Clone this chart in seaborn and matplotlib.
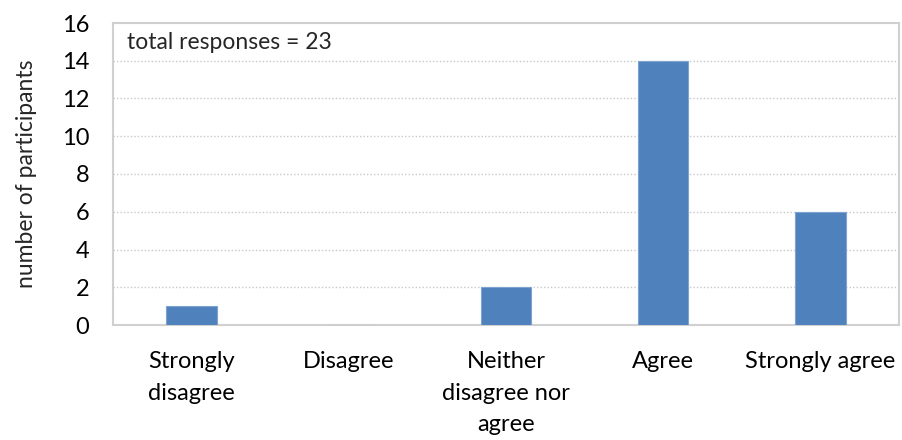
import matplotlib
matplotlib.use("Agg")
import matplotlib.pyplot as plt
import seaborn as sns
import pandas as pd

categories = ["Strongly\ndisagree", "Disagree", "Neither\ndisagree nor\nagree", "Agree", "Strongly agree"]
counts = [1, 0, 2, 14, 6]
y_ticks = [0, 2, 4, 6, 8, 10, 12, 14, 16]

sns.set_theme(style="white")
plt.rcParams["font.family"] = ["Lato", "DejaVu Sans"]

df = pd.DataFrame({"response": categories, "count": counts})

fig = plt.figure(figsize=(9.02, 4.40), dpi=100)
ax = fig.add_axes([113 / 902, 1 - 325 / 440, (899 - 113) / 902, (325 - 23) / 440])

sns.barplot(data=df, x="response", y="count", color="#4f81bd", width=0.32,
            saturation=1, ax=ax, edgecolor="#7ea3d2", linewidth=0.8, zorder=3)

ax.set_ylim(0, 16)
ax.set_yticks(y_ticks)
ax.set_xlim(-0.5, len(categories) - 0.5)
for y in y_ticks[1:-1]:
    ax.axhline(y, color="#c8c8c8", linestyle=(0, (1, 1.5)), linewidth=1.0, zorder=1)

for s in ax.spines.values():
    s.set_color("#d0d0d0")
    s.set_linewidth(1.5)

ax.tick_params(axis="both", length=0, labelsize=17, colors="black")
ax.tick_params(axis="y", pad=17)
ax.tick_params(axis="x", pad=19)
for lbl in ax.get_xticklabels():
    lbl.set_linespacing(1.6)
    lbl.set_verticalalignment("top")

ax.set_xlabel("")
ax.set_ylabel("number of participants", fontsize=16.5, labelpad=18)
ax.text(0.018, 0.935, "total responses = 23", transform=ax.transAxes,
        fontsize=16.5, va="center", ha="left")

fig.savefig("out.png", dpi=100)
